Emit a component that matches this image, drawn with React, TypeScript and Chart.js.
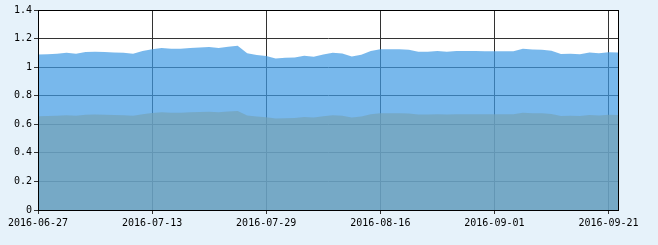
import React, { useEffect, useRef } from "react";
import { Chart, registerables } from "chart.js";

Chart.register(...registerables);

const dates: string[] = [
  "2016-06-27", "2016-06-28", "2016-06-29", "2016-06-30",
  "2016-07-01", "2016-07-04", "2016-07-05", "2016-07-06", "2016-07-07", "2016-07-08",
  "2016-07-11", "2016-07-12", "2016-07-13", "2016-07-14", "2016-07-15",
  "2016-07-18", "2016-07-19", "2016-07-20", "2016-07-21", "2016-07-22",
  "2016-07-25", "2016-07-26", "2016-07-27", "2016-07-28", "2016-07-29",
  "2016-08-01", "2016-08-02", "2016-08-03", "2016-08-04", "2016-08-05",
  "2016-08-08", "2016-08-09", "2016-08-10", "2016-08-11", "2016-08-12",
  "2016-08-15", "2016-08-16", "2016-08-17", "2016-08-18", "2016-08-19",
  "2016-08-22", "2016-08-23", "2016-08-24", "2016-08-25", "2016-08-26",
  "2016-08-29", "2016-08-30", "2016-08-31", "2016-09-01", "2016-09-02",
  "2016-09-05", "2016-09-06", "2016-09-07", "2016-09-08", "2016-09-09",
  "2016-09-12", "2016-09-13", "2016-09-14", "2016-09-19", "2016-09-20",
  "2016-09-21", "2016-09-22",
];

const labeledDates: string[] = [
  "2016-06-27", "2016-07-13", "2016-07-29", "2016-08-16", "2016-09-01", "2016-09-21",
];

const upperValues: number[] = [
  1.088, 1.091, 1.094, 1.101, 1.093, 1.106, 1.107, 1.106, 1.103, 1.101,
  1.094, 1.113, 1.126, 1.134, 1.128, 1.128, 1.134, 1.137, 1.141, 1.134,
  1.142, 1.150, 1.097, 1.085, 1.078, 1.061, 1.066, 1.068, 1.080, 1.073,
  1.088, 1.101, 1.095, 1.075, 1.087, 1.113, 1.125, 1.125, 1.125, 1.121,
  1.108, 1.108, 1.113, 1.108, 1.113, 1.113, 1.113, 1.112, 1.111, 1.111,
  1.111, 1.128, 1.124, 1.122, 1.114, 1.092, 1.094, 1.091, 1.103, 1.098,
  1.104, 1.102,
];

const lowerValues: number[] = [
  0.656, 0.658, 0.660, 0.664, 0.659, 0.667, 0.668, 0.667, 0.665, 0.664,
  0.660, 0.671, 0.679, 0.684, 0.680, 0.680, 0.684, 0.686, 0.688, 0.684,
  0.689, 0.693, 0.662, 0.654, 0.650, 0.640, 0.643, 0.644, 0.651, 0.647,
  0.656, 0.664, 0.660, 0.648, 0.655, 0.671, 0.678, 0.678, 0.678, 0.676,
  0.668, 0.668, 0.671, 0.668, 0.671, 0.671, 0.671, 0.670, 0.670, 0.670,
  0.670, 0.680, 0.678, 0.677, 0.672, 0.658, 0.660, 0.658, 0.665, 0.662,
  0.666, 0.665,
];

const yMin = 0;
const yMax = 1.4;
const yStep = 0.2;

const PAGE_BG = "#e6f2fa";
const FONT = { family: "'DejaVu Sans Mono', monospace", size: 10 };

const framePlugin = {
  id: "frame",
  beforeDraw(chart: any) {
    const { ctx, chartArea, width, height } = chart;
    ctx.save();
    ctx.fillStyle = PAGE_BG;
    ctx.fillRect(0, 0, width, height);
    ctx.fillStyle = "#ffffff";
    ctx.fillRect(chartArea.left, chartArea.top, chartArea.right - chartArea.left, chartArea.bottom - chartArea.top);
    ctx.restore();
  },
  afterDraw(chart: any) {
    const { ctx, chartArea } = chart;
    ctx.save();
    ctx.strokeStyle = "#000000";
    ctx.lineWidth = 1;
    const l = Math.round(chartArea.left) + 0.5;
    const t = Math.round(chartArea.top) + 0.5;
    const r = Math.round(chartArea.right) + 0.5;
    const b = Math.round(chartArea.bottom) + 0.5;
    ctx.strokeRect(l, t, r - l, b - t);
    ctx.restore();
  },
};

export default function App() {
  const ref = useRef<HTMLCanvasElement | null>(null);

  useEffect(() => {
    document.body.style.margin = "0";
    document.body.style.background = PAGE_BG;
    if (!ref.current) return;
    const chart = new Chart(ref.current, {
      type: "line",
      data: {
        labels: dates,
        datasets: [
          {
            label: "lower",
            data: lowerValues,
            fill: "origin",
            backgroundColor: "rgba(117,163,182,0.7)",
            borderWidth: 0,
            pointRadius: 0,
            tension: 0,
          },
          {
            label: "upper",
            data: upperValues,
            fill: "origin",
            backgroundColor: "rgba(62,154,228,0.7)",
            borderWidth: 0,
            pointRadius: 0,
            tension: 0,
          },
        ],
      },
      options: {
        animation: false,
        responsive: false,
        events: [],
        layout: { padding: { top: 10, right: 40, left: 0, bottom: 0 } },
        plugins: {
          legend: { display: false },
          tooltip: { enabled: false },
        },
        scales: {
          x: {
            type: "category",
            offset: false,
            afterFit: (s: any) => { s.height = 35; },
            grid: {
              display: true,
              drawOnChartArea: true,
              drawTicks: true,
              tickLength: 4,
              color: (c: any) => (labeledDates.includes(dates[c.index]) ? "#333333" : "rgba(0,0,0,0)"),
            },
            border: { display: true, color: "#000000" },
            ticks: {
              autoSkip: false,
              maxRotation: 0,
              minRotation: 0,
              padding: 3,
              color: "#000000",
              font: FONT,
              callback: (_v: any, i: number) => (labeledDates.includes(dates[i]) ? dates[i] : ""),
            },
          },
          y: {
            min: yMin,
            max: yMax,
            afterFit: (s: any) => { s.width = 38; },
            grid: {
              display: true,
              drawOnChartArea: true,
              drawTicks: true,
              tickLength: 4,
              color: "#333333",
            },
            border: { display: true, color: "#000000" },
            ticks: {
              stepSize: yStep,
              padding: 2,
              color: "#000000",
              font: FONT,
              callback: (v: any) => String(Number(Number(v).toFixed(1))),
            },
          },
        },
      },
      plugins: [framePlugin],
    });
    return () => chart.destroy();
  }, []);

  return (
    <div style={{ width: 658, height: 245, background: PAGE_BG }}>
      <canvas ref={ref} width={658} height={245} style={{ display: "block" }} />
    </div>
  );
}
